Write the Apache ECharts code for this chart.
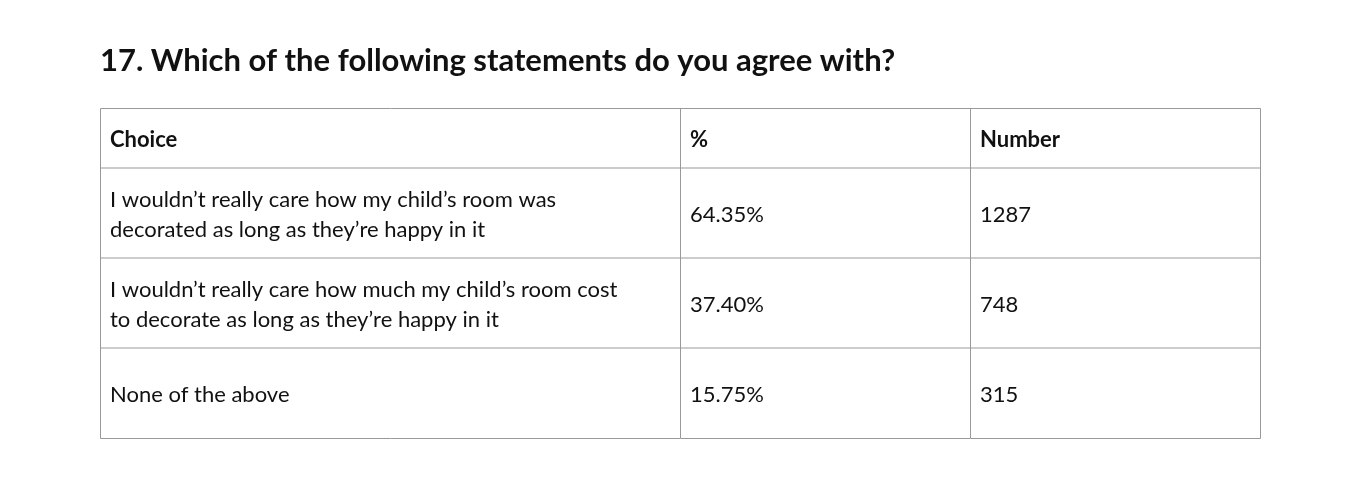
<!DOCTYPE html>
<html><head><meta charset="utf-8">
<script src="https://cdn.jsdelivr.net/npm/echarts@6/dist/echarts.min.js"></script>
<style>html,body{margin:0;background:#fff}#c{width:1360px;height:488px}</style>
</head><body><div id="c"></div>
<script>
const title = "17. Which of the following statements do you agree with?";
const headers = ["Choice", "%", "Number"];
const choices = [
  "I wouldn\u2019t really care how my child\u2019s room was\ndecorated as long as they\u2019re happy in it",
  "I wouldn\u2019t really care how much my child\u2019s room cost\nto decorate as long as they\u2019re happy in it",
  "None of the above"
];
const percents = ["64.35%", "37.40%", "15.75%"];
const numbers = ["1287", "748", "315"];

const L = 100, R = 1260, T = 108, headH = 60, rowH = 90;
const colX = [100, 680, 970, 1260];
const font = "Lato, 'Noto Sans', sans-serif";
const els = [];
els.push({type:'text', left:L, top:45, style:{text:title, font:"bold 31px " + font, fill:'#111'}});
const rows = [headers].concat(choices.map((c,i)=>[c, percents[i], numbers[i]]));
let y = T;
rows.forEach((r, ri) => {
  const h = ri === 0 ? headH : rowH;
  r.forEach((t, ci) => {
    els.push({type:'text', x: colX[ci] + 10, y: y + h/2 + 2,
      style:{text:t, font:(ri===0?'bold ':'') + '22px ' + font, fill:'#111',
        verticalAlign:'middle', lineHeight:30}});
  });
  y += h;
  if (ri < rows.length - 1) els.push({type:'line', shape:{x1:L,y1:y,x2:R,y2:y}, style:{stroke:'#999',lineWidth:1}});
});
const B = y;
els.push({type:'rect', shape:{x:L+0.5,y:T+0.5,width:R-L,height:B-T}, style:{fill:'none',stroke:'#999',lineWidth:1}});
[colX[1], colX[2]].forEach(x => els.push({type:'line', shape:{x1:x+0.5,y1:T,x2:x+0.5,y2:B}, style:{stroke:'#999',lineWidth:1}}));
const chart = echarts.init(document.getElementById('c'));
chart.setOption({graphic:{elements:els}});
</script></body></html>
